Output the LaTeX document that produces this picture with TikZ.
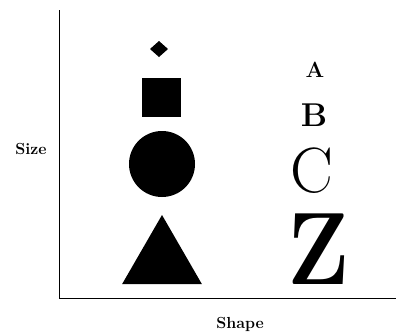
\documentclass[tikz,border=0pt]{standalone}
\usepackage{fontspec}
\usepackage{tikz}
\usetikzlibrary{shapes.geometric,positioning}

\begin{document}
\begin{tikzpicture}[x=1pt,y=-1pt,
    shp/.style={fill=black,draw=none,inner sep=0pt,outer sep=0pt},
    lbl/.style={font=\bfseries\fontsize{16}{19}\selectfont,anchor=base}]
    \useasboundingbox (0,0) rectangle (396,335);

    % Axes
    \coordinate (top) at (59,10);
    \coordinate (origin) at (59,298);
    \coordinate (right) at (396,298);
    \draw[line width=1pt] (top) -- (origin) -- (right);

    % Axis labels
    \node[lbl] (size) at (31,154) {Size};
    \node[lbl] (shape) at (240,328) {Shape};

    % Shapes column
    \node[shp,diamond,minimum width=18pt,minimum height=16pt] (dia) at (159,49) {};
    \node[shp,rectangle,minimum size=39pt] (sq) at (161.5,97.5) {};
    \node[shp,circle,minimum size=66pt] (circ) at (162,164) {};
    \node[shp,regular polygon,regular polygon sides=3,minimum size=92pt] (tri) at (162,261) {};

    % Letters column
    \node[anchor=base,inner sep=0pt,font=\bfseries\fontsize{22}{24}\selectfont] (la) at (315,77) {A};
    \node[anchor=base,inner sep=0pt,font=\bfseries\fontsize{33}{36}\selectfont] (lb) at (314,126) {B};
    \node[anchor=base,inner sep=0pt,font=\fontsize{64}{70}\selectfont] (lc) at (312,192) {C};
    \node[anchor=base,inner sep=0pt,font=\bfseries\fontsize{103}{110}\selectfont] (lz) at (319,284) {\scalebox{0.88}[1]{Z}};
\end{tikzpicture}
\end{document}
